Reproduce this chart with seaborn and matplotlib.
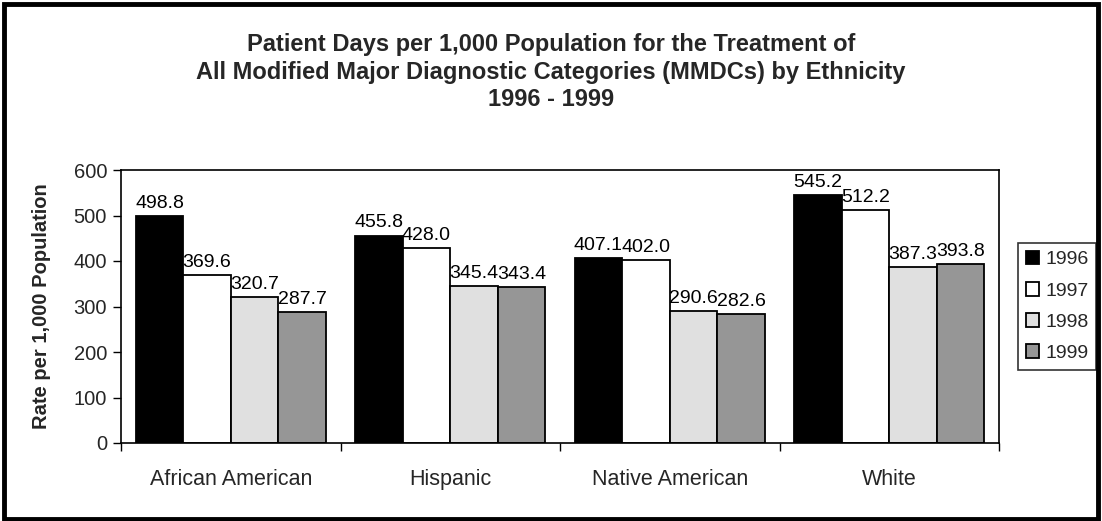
import matplotlib
matplotlib.use("Agg")
import matplotlib.pyplot as plt
import seaborn as sns
import pandas as pd
from matplotlib.patches import Rectangle, Patch

categories = ["African American", "Hispanic", "Native American", "White"]
years = ["1996", "1997", "1998", "1999"]
v1996 = [498.8, 455.8, 407.1, 545.2]
v1997 = [369.6, 428.0, 402.0, 512.2]
v1998 = [320.7, 345.4, 290.6, 387.3]
v1999 = [287.7, 343.4, 282.6, 393.8]
yticks = [0, 100, 200, 300, 400, 500, 600]
colors = ["#000000", "#FFFFFF", "#E0E0E0", "#969696"]

rows = []
for yr, vals in zip(years, [v1996, v1997, v1998, v1999]):
    for c, v in zip(categories, vals):
        rows.append({"Ethnicity": c, "Year": yr, "Rate": v})
df = pd.DataFrame(rows)

sns.set_theme(style="white")
plt.rcParams["font.family"] = ["Liberation Sans", "DejaVu Sans"]

fig = plt.figure(figsize=(11.02, 5.21), dpi=100)
ax = fig.add_axes([121/1102, 1-443/521, (999-121)/1102, (443-170)/521])

sns.barplot(data=df, x="Ethnicity", y="Rate", hue="Year", order=categories,
            hue_order=years, palette=colors, width=0.866, gap=0,
            edgecolor="black", linewidth=1.3, saturation=1, ax=ax, legend=False)

for cont in ax.containers:
    ax.bar_label(cont, fmt="%.1f", padding=3, fontsize=14, color="black")

ax.set_ylim(0, 600)
ax.set_xlim(-0.5, 3.5)
ax.set_yticks(yticks)
ax.set_yticklabels([str(t) for t in yticks], fontsize=14.5)
ax.set_xticks(range(len(categories)))
ax.set_xticklabels(categories, fontsize=15.5)
ax.set_xticks([-0.5, 0.5, 1.5, 2.5, 3.5], minor=True)
ax.tick_params(axis="x", which="major", length=0, pad=19)
ax.tick_params(axis="x", which="minor", length=6, width=1, color="black", direction="out", bottom=True)
ax.tick_params(axis="y", length=6, width=1, color="black", direction="out", left=True, pad=4)
ax.set_xlabel("")
ax.set_ylabel("Rate per 1,000 Population", fontsize=14.5, fontweight="bold", labelpad=16)
for s in ax.spines.values():
    s.set_visible(True)
    s.set_color("black")
    s.set_linewidth(1.2)

fig.text(0.5, 1-33/521, "Patient Days per 1,000 Population for the Treatment of\n"
         "All Modified Major Diagnostic Categories (MMDCs) by Ethnicity\n1996 - 1999",
         ha="center", va="top", fontsize=17, fontweight="bold", linespacing=1.26)

handles = [Patch(facecolor=c, edgecolor="black", linewidth=1.3) for c in colors]
leg = fig.legend(handles, years, loc="upper left", bbox_to_anchor=(1018/1102, 1-243/521),
                 frameon=True, fancybox=False, fontsize=14, handlelength=0.7,
                 handleheight=0.7, handletextpad=0.3, labelspacing=0.7,
                 borderpad=0.4, borderaxespad=0)
leg.get_frame().set_edgecolor("black")
leg.get_frame().set_linewidth(1.2)

fig.patches.append(Rectangle((0.004, 0.004), 0.992, 0.988, transform=fig.transFigure,
                             fill=False, edgecolor="black", linewidth=3.5))

fig.savefig("out.png", dpi=100)
